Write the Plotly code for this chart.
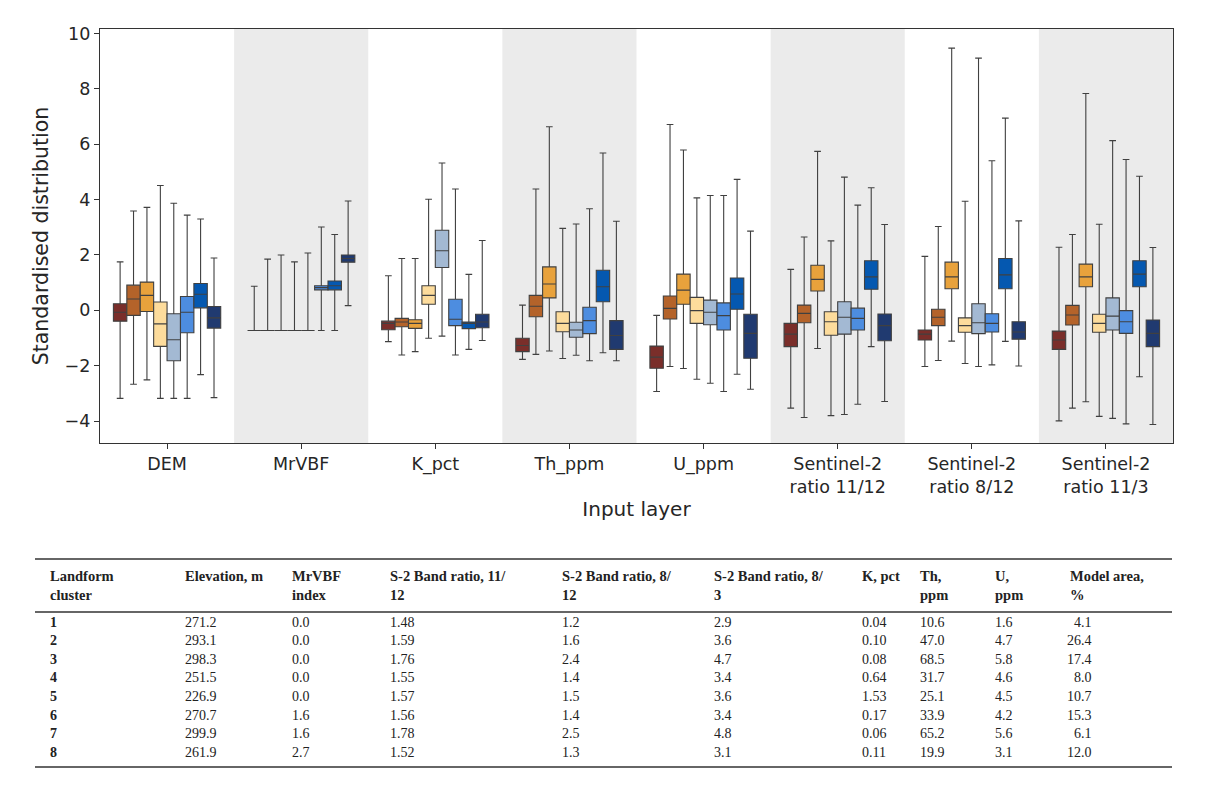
import plotly.graph_objects as go

# ---------------- data ----------------
layers = ["DEM", "MrVBF", "K_pct", "Th_ppm", "U_ppm",
          "Sentinel-2<br>ratio 11/12", "Sentinel-2<br>ratio 8/12", "Sentinel-2<br>ratio 11/3"]
clusters = ["1", "2", "3", "4", "5", "6", "7", "8"]
colors = ["#7A2E2A", "#B4632A", "#E8A23C", "#FDDC9C", "#A3B9D3", "#4D8DE0", "#0558B0", "#203A70"]

# per cluster: list over layers  (lower whisker, q1, median, q3, upper whisker)
lower = [
    [-3.18, -0.73, -1.13, -1.77, -2.93, -3.53, -2.03, -3.99],
    [-2.67, -0.73, -1.61, -1.59, -2.03, -3.87, -1.81, -3.53],
    [-2.51, -0.73, -1.49, -1.47, -2.10, -1.38, -1.11, -3.30],
    [-3.18, -0.73, -1.01, -1.74, -2.49, -3.80, -1.92, -3.83],
    [-3.18, -0.73, -0.93, -1.62, -2.63, -3.76, -2.03, -3.90],
    [-3.18, -0.73, -1.61, -1.82, -2.93, -3.39, -1.97, -4.10],
    [-2.32, -0.73, -1.41, -1.53, -2.31, -1.31, -1.12, -2.40],
    [-3.15, 0.17, -1.09, -1.82, -2.85, -3.29, -2.01, -4.12],
]
q1 = [
    [-0.39, -0.73, -0.70, -1.49, -2.09, -1.31, -1.07, -1.41],
    [-0.18, -0.73, -0.59, -0.23, -0.31, -0.45, -0.55, -0.53],
    [-0.04, -0.73, -0.65, 0.45, 0.22, 0.70, 0.78, 0.85],
    [-1.30, -0.73, 0.22, -0.77, -0.47, -0.90, -0.79, -0.79],
    [-1.82, -0.73, 1.55, -0.97, -0.52, -0.86, -0.84, -0.71],
    [-0.81, 0.74, -0.55, -0.84, -0.71, -0.71, -0.78, -0.83],
    [0.09, 0.74, -0.66, 0.31, 0.04, 0.76, 0.78, 0.85],
    [-0.64, 1.74, -0.63, -1.41, -1.73, -1.10, -1.04, -1.31],
]
median = [
    [-0.07, -0.73, -0.47, -1.27, -1.69, -0.86, -0.86, -1.07],
    [0.41, -0.73, -0.42, 0.15, 0.07, -0.11, -0.25, -0.17],
    [0.54, -0.73, -0.47, 0.95, 0.73, 1.12, 1.21, 1.21],
    [-0.49, -0.73, 0.54, -0.47, -0.01, -0.41, -0.55, -0.47],
    [-1.06, -0.73, 2.15, -0.71, -0.07, -0.25, -0.45, -0.21],
    [-0.07, 0.82, -0.32, -0.37, -0.19, -0.29, -0.47, -0.41],
    [0.58, 0.89, -0.47, 0.85, 0.59, 1.21, 1.28, 1.31],
    [-0.27, 1.87, -0.42, -0.91, -0.83, -0.55, -0.78, -0.83],
]
q3 = [
    [0.24, -0.73, -0.39, -1.01, -1.29, -0.47, -0.71, -0.75],
    [0.91, -0.73, -0.29, 0.54, 0.52, 0.19, 0.04, 0.18],
    [1.02, -0.73, -0.34, 1.57, 1.31, 1.63, 1.74, 1.67],
    [0.30, -0.73, 0.89, -0.05, 0.47, -0.05, -0.27, -0.14],
    [-0.12, -0.73, 2.89, -0.43, 0.37, 0.31, 0.24, 0.45],
    [0.50, 0.89, 0.40, 0.11, 0.27, 0.08, -0.12, -0.01],
    [0.97, 1.06, -0.42, 1.45, 1.17, 1.79, 1.87, 1.79],
    [0.14, 2.00, -0.14, -0.37, -0.14, -0.13, -0.41, -0.35],
]
upper = [
    [1.75, 0.87, 1.25, 0.19, -0.18, 1.48, 1.95, 2.28],
    [3.59, 1.85, 1.87, 4.38, 6.71, 2.65, 3.03, 2.74],
    [3.72, 2.00, 1.87, 6.63, 5.79, 5.74, 9.47, 7.83],
    [4.51, 1.75, 4.01, 2.96, 4.06, 2.51, 3.94, 3.11],
    [3.87, 2.07, 5.32, 3.12, 4.15, 4.81, 9.11, 6.13],
    [3.44, 3.01, 4.38, 3.67, 4.15, 3.80, 5.40, 5.45],
    [3.30, 2.74, 1.30, 5.68, 4.73, 4.43, 6.94, 4.84],
    [1.89, 3.95, 2.52, 3.22, 2.86, 3.10, 3.23, 2.27],
]

# ---------------- table data ----------------
table_headers = ["Landform<br>cluster", "Elevation, m", "MrVBF<br>index", "S-2 Band ratio, 11/<br>12",
                 "S-2 Band ratio, 8/<br>12", "S-2 Band ratio, 8/<br>3", "K, pct", "Th,<br>ppm", "U,<br>ppm",
                 "Model area,<br>%"]
t_cluster = ["1", "2", "3", "4", "5", "6", "7", "8"]
t_elev = ["271.2", "293.1", "298.3", "251.5", "226.9", "270.7", "299.9", "261.9"]
t_mrvbf = ["0.0", "0.0", "0.0", "0.0", "0.0", "1.6", "1.6", "2.7"]
t_r11_12 = ["1.48", "1.59", "1.76", "1.55", "1.57", "1.56", "1.78", "1.52"]
t_r8_12 = ["1.2", "1.6", "2.4", "1.4", "1.5", "1.4", "2.5", "1.3"]
t_r8_3 = ["2.9", "3.6", "4.7", "3.4", "3.6", "3.4", "4.8", "3.1"]
t_k = ["0.04", "0.10", "0.08", "0.64", "1.53", "0.17", "0.06", "0.11"]
t_th = ["10.6", "47.0", "68.5", "31.7", "25.1", "33.9", "65.2", "19.9"]
t_u = ["1.6", "4.7", "5.8", "4.6", "4.5", "4.2", "5.6", "3.1"]
t_area = ["4.1", "26.4", "17.4", "8.0", "10.7", "15.3", "6.1", "12.0"]
table_columns = [t_cluster, t_elev, t_mrvbf, t_r11_12, t_r8_12, t_r8_3, t_k, t_th, t_u, t_area]

# ---------------- figure ----------------
OFF = 8                      # page body margin
W, H = 1212 - 2 * OFF, 797 - 2 * OFF
L, R, T, B = 100, 1173, 29, 443   # plot-area edges in page pixels

fig = go.Figure()
for i, c in enumerate(clusters):
    fig.add_trace(go.Box(
        x=layers, q1=q1[i], median=median[i], q3=q3[i],
        lowerfence=lower[i], upperfence=upper[i],
        name=c, fillcolor=colors[i],
        line=dict(color="#404040", width=1.1),
        whiskerwidth=0.5, boxpoints=False, showlegend=False,
        hoverinfo="skip",
    ))

shapes = []
for k in range(len(layers)):
    if k % 2 == 1:
        shapes.append(dict(type="rect", xref="x", yref="paper", x0=k - 0.5, x1=k + 0.5,
                           y0=0, y1=1, fillcolor="#EBEBEB", line=dict(width=0), layer="below"))


def px(xp):
    return (xp - L) / (R - L)


def py(yp):
    return (B - yp) / (B - T)


# table rules
for yy, w in [(559, 1.6), (612, 1.6), (767, 1.6)]:
    shapes.append(dict(type="line", xref="paper", yref="paper", x0=px(35), x1=px(1172),
                       y0=py(yy), y1=py(yy), line=dict(color="#333333", width=w)))

annotations = []
col_x = [48, 183, 290, 388, 560, 712, 860, 918, 993, 1068]
serif = "Liberation Serif"
for j, h in enumerate(table_headers):
    annotations.append(dict(xref="paper", yref="paper", x=px(col_x[j]), y=py(566),
                            xanchor="left", yanchor="top", text="<b>" + h + "</b>", showarrow=False,
                            align="left", font=dict(family=serif, size=14.5, color="#222222")))
row_y0, row_dy = 622, 18.6
for j, col in enumerate(table_columns):
    for r, v in enumerate(col):
        txt = "<b>" + v + "</b>" if j == 0 else v
        if j == len(table_columns) - 1:
            xa, xx = "right", 1094
        else:
            xa, xx = "left", col_x[j]
        annotations.append(dict(xref="paper", yref="paper", x=px(xx), y=py(row_y0 + r * row_dy),
                                xanchor=xa, yanchor="middle", text=txt, showarrow=False,
                                font=dict(family=serif, size=14, color="#222222")))

fig.update_layout(
    width=W, height=H,
    margin=dict(l=L - OFF, r=W - (R - OFF), t=T - OFF, b=H - (B - OFF)),
    paper_bgcolor="white", plot_bgcolor="white",
    boxmode="group", boxgap=0.2, boxgroupgap=0,
    font=dict(family="DejaVu Sans", color="#262626", size=16),
    shapes=shapes, annotations=annotations,
)
fig.update_xaxes(
    showgrid=False, showline=True, mirror=True, linecolor="#333333", linewidth=1.3,
    ticks="outside", ticklen=5, tickcolor="#333333",
    tickfont=dict(family="DejaVu Sans", size=17.5, color="#262626"),
    title=dict(text="Input layer", font=dict(family="DejaVu Sans", size=20, color="#262626"), standoff=6),
    zeroline=False,
)
fig.update_yaxes(
    range=[-4.79, 10.16], showgrid=False, zeroline=False, showline=True, mirror=True,
    linecolor="#333333", linewidth=1.3, ticks="outside", ticklen=5, tickcolor="#333333",
    tickvals=[-4, -2, 0, 2, 4, 6, 8, 10],
    tickfont=dict(family="DejaVu Sans", size=17.5, color="#262626"),
    title=dict(text="Standardised distribution", font=dict(family="DejaVu Sans", size=20.5, color="#262626"),
               standoff=10),
)

fig.write_html("out.html")
